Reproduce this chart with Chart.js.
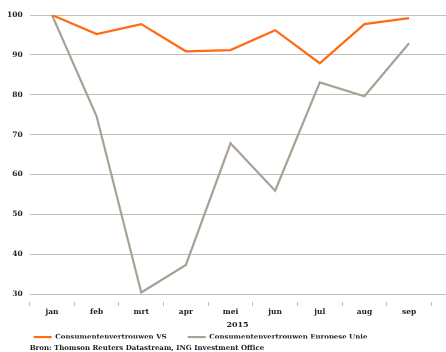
<!DOCTYPE html>
<html>
<head>
<meta charset="utf-8">
<script src="https://cdn.jsdelivr.net/npm/chart.js@4"></script>
<style>
  html, body { margin: 0; padding: 0; background: #fff; overflow: hidden; }
  #wrap { width: 476px; height: 352px; }
</style>
</head>
<body>
<div id="wrap"><canvas id="myChart" width="476" height="352"></canvas></div>
<script>
// maanden 2015
const months = ['jan', 'feb', 'mrt', 'apr', 'mei', 'jun', 'jul', 'aug', 'sep', 'okt']
const usConfidence = [100, 95.2, 97.7, 90.9, 91.2, 96.2, 87.9, 97.7, 99.2, null]
const euConfidence = [100, 74.6, 30.4, 37.3, 67.8, 55.9, 83.1, 79.6, 92.9, null]
const yTicks = [30, 40, 50, 60, 70, 80, 90, 100]

const fontFam = '"DejaVu Serif", serif'
const ctx = document.getElementById('myChart')

new Chart(ctx, {
  type: 'line',
  data: {
    labels: months,
    datasets: [{
      label: 'Consumentenvertrouwen VS',
      data: usConfidence,
      borderColor: '#ff6a13',
      backgroundColor: '#ff6a13',
      borderWidth: 2.2,
      pointRadius: 0,
      tension: 0
    }, {
      label: 'Consumentenvertrouwen Europese Unie',
      data: euConfidence,
      borderColor: '#aaa196',
      backgroundColor: '#aaa196',
      borderWidth: 2.2,
      pointRadius: 0,
      tension: 0
    }]
  },
  options: {
    responsive: false,
    animation: false,
    layout: { padding: { top: 15, left: 0, right: 0, bottom: 0 } },
    plugins: {
      legend: {
        position: 'bottom',
        align: 'start',
        fullSize: false,
        maxHeight: 9,
        labels: {
          usePointStyle: true,
          pointStyle: 'line',
          pointStyleWidth: 18,
          padding: 4,
          color: '#222',
          font: { family: fontFam, size: 7, weight: 'bold' },
          // wat extra ruimte tussen de items
          generateLabels: (chart) => {
            const items = Chart.defaults.plugins.legend.labels.generateLabels(chart)
            items.forEach(it => { it.text = it.text + '       ' })
            return items
          }
        }
      },
      title: {
        display: true,
        position: 'bottom',
        align: 'start',
        fullSize: false,
        text: 'Bron: Thomson Reuters Datastream, ING Investment Office',
        color: '#222',
        padding: { top: 5, bottom: 0 },
        font: { family: fontFam, size: 7, weight: 'bold' }
      },
      tooltip: { enabled: false }
    },
    scales: {
      x: {
        offset: true,
        border: { display: false },
        grid: {
          offset: true,
          drawOnChartArea: false,
          drawTicks: true,
          tickLength: 4,
          color: '#bbb'
        },
        ticks: {
          color: '#222',
          padding: 2,
          font: { family: fontFam, size: 7.5, weight: 'bold' }
        },
        title: {
          display: true,
          text: '2015           ',
          color: '#222',
          padding: { top: 1, bottom: 0 },
          font: { family: fontFam, size: 8, weight: 'bold' }
        }
      },
      y: {
        min: 28,
        max: 100,
        border: { display: false },
        afterBuildTicks: (axis) => {
          axis.ticks = yTicks.map(v => ({ value: v }))
        },
        grid: {
          color: '#c0c0c0',
          lineWidth: 1,
          drawTicks: false
        },
        ticks: {
          color: '#222',
          padding: 7,
          font: { family: fontFam, size: 7.5, weight: 'bold' }
        }
      }
    }
  }
})
</script>
</body>
</html>
